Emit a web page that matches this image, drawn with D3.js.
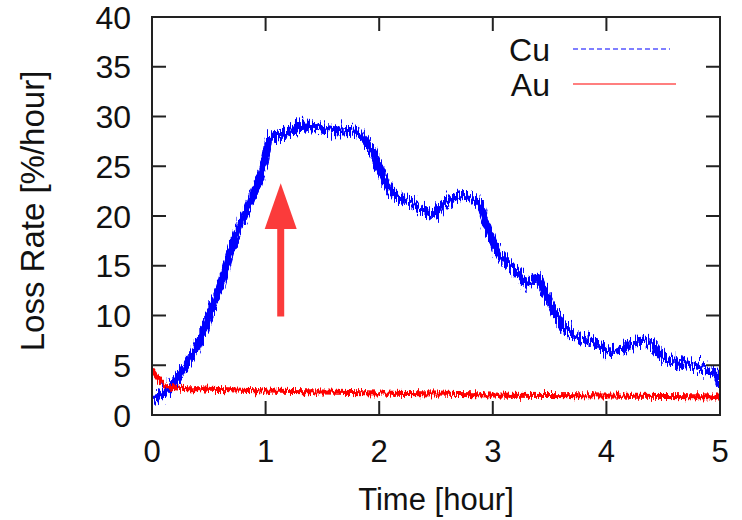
<!doctype html>
<html>
<head>
<meta charset="utf-8">
<script src="https://cdnjs.cloudflare.com/ajax/libs/d3/7.8.5/d3.min.js"></script>
<style>
  body { margin: 0; background: #fff; }
  text { font-family: "Liberation Sans", Arial, Helvetica, sans-serif; fill: #111; }
</style>
</head>
<body>
<svg id="chart" width="742" height="520"></svg>
<script>
// values (time in hours, loss rate in %/hour)
var cuTime = [0, 0.07, 0.14, 0.25, 0.33, 0.42, 0.51, 0.6, 0.69, 0.77, 0.86, 0.95, 1.0, 1.03, 1.1, 1.16, 1.27, 1.36, 1.48, 1.65, 1.8, 1.85, 1.89, 1.95, 2.01, 2.07, 2.15, 2.27, 2.39, 2.47, 2.56, 2.68, 2.75, 2.89, 2.93, 2.97, 3.03, 3.12, 3.21, 3.3, 3.39, 3.44, 3.5, 3.59, 3.68, 3.8, 3.92, 4.0, 4.09, 4.21, 4.32, 4.41, 4.5, 4.62, 4.74, 4.85, 4.94, 4.99, 5.0];
var cuRate = [1.8, 2.0, 2.6, 4.2, 5.5, 7.5, 10.2, 12.9, 16.3, 18.9, 21.3, 23.9, 25.9, 27.6, 28.1, 28.2, 28.9, 29.1, 28.8, 28.5, 28.6, 27.9, 27.4, 26.3, 24.6, 23.1, 22.1, 21.4, 20.6, 20.1, 21.1, 21.9, 22.0, 21.1, 19.6, 18.3, 16.6, 15.4, 14.3, 13.3, 13.8, 12.9, 11.3, 9.5, 8.3, 7.5, 7.2, 6.4, 6.5, 7.0, 7.5, 7.0, 5.8, 5.3, 5.0, 4.7, 4.2, 3.5, 3.0];

var auTime = [0, 0.05, 0.1, 0.15, 0.25, 0.5, 1, 1.5, 2, 2.5, 3, 3.5, 4, 4.5, 5];
var auRate = [4.5, 3.7, 3.1, 2.8, 2.7, 2.6, 2.4, 2.3, 2.2, 2.1, 2.0, 1.95, 1.9, 1.85, 1.8];

var xTicks = [0, 1, 2, 3, 4, 5];
var yTicks = [0, 5, 10, 15, 20, 25, 30, 35, 40];

// arrow pointing at the knee of the Cu curve
var arrowTime = 1.133, arrowFrom = 9.9, arrowHeadBase = 18.7, arrowTip = 23.3;

var svg = d3.select("#chart"),
    plotL = 152, plotR = 720, plotT = 17, plotB = 415;

var x = d3.scaleLinear().domain([0, 5]).range([plotL, plotR]),
    y = d3.scaleLinear().domain([0, 40]).range([plotB, plotT]);

var defs = svg.append("defs");

// vertical jitter so the lines look like dense noisy samples
function jitter(id, freq, amount) {
    var f = defs.append("filter")
        .attr("id", id)
        .attr("filterUnits", "userSpaceOnUse")
        .attr("x", 0).attr("y", 0).attr("width", 742).attr("height", 520)
        .attr("color-interpolation-filters", "sRGB");
    f.append("feTurbulence")
        .attr("type", "fractalNoise")
        .attr("baseFrequency", freq)
        .attr("numOctaves", 3)
        .attr("seed", 7)
        .attr("result", "noise");
    f.append("feColorMatrix")
        .attr("in", "noise")
        .attr("type", "matrix")
        .attr("values", "1 0 0 0 0  0 1 0 0 0  0 0 0 0 0.5  0 0 0 0 1")
        .attr("result", "map");
    f.append("feDisplacementMap")
        .attr("in", "SourceGraphic")
        .attr("in2", "map")
        .attr("scale", amount)
        .attr("xChannelSelector", "B")
        .attr("yChannelSelector", "R");
}
jitter("cuNoise", "0.7 0.08", 24);
jitter("auNoise", "0.7 0.08", 11);

defs.append("clipPath").attr("id", "plotClip")
    .append("rect")
    .attr("x", plotL).attr("y", plotT)
    .attr("width", plotR - plotL).attr("height", plotB - plotT);

var line = d3.line()
    .x(function(d) { return x(d[0]); })
    .y(function(d) { return y(d[1]); })
    .curve(d3.curveMonotoneX);

var cu = cuTime.map(function(t, i) { return [t, cuRate[i]]; });
var au = auTime.map(function(t, i) { return [t, auRate[i]]; });

var plot = svg.append("g").attr("clip-path", "url(#plotClip)");

plot.append("path")
    .datum(cu)
    .attr("d", line)
    .attr("fill", "none")
    .attr("stroke", "#0000ff")
    .attr("stroke-width", 8)
    .attr("filter", "url(#cuNoise)");

plot.append("path")
    .datum(au)
    .attr("d", line)
    .attr("fill", "none")
    .attr("stroke", "#ff0000")
    .attr("stroke-width", 5)
    .attr("filter", "url(#auNoise)");

// arrow
var arrowColor = "#fb3b3b";
svg.append("line")
    .attr("x1", x(arrowTime)).attr("x2", x(arrowTime))
    .attr("y1", y(arrowFrom)).attr("y2", y(arrowHeadBase) - 1)
    .attr("stroke", arrowColor)
    .attr("stroke-width", 7);
svg.append("path")
    .attr("d", "M" + x(arrowTime) + "," + y(arrowTip) +
        "L" + (x(arrowTime) + 16) + "," + y(arrowHeadBase) +
        "L" + (x(arrowTime) - 16) + "," + y(arrowHeadBase) + "Z")
    .attr("fill", arrowColor);

// frame with inward ticks on all four sides
var frame = svg.append("g").attr("stroke", "#222").attr("stroke-width", 2);
frame.append("rect")
    .attr("x", plotL).attr("y", plotT)
    .attr("width", plotR - plotL).attr("height", plotB - plotT)
    .attr("fill", "none");

var tickLen = 14;
xTicks.slice(1, -1).forEach(function(t) {
    frame.append("line").attr("x1", x(t)).attr("x2", x(t)).attr("y1", plotB).attr("y2", plotB - tickLen);
    frame.append("line").attr("x1", x(t)).attr("x2", x(t)).attr("y1", plotT).attr("y2", plotT + tickLen);
});
yTicks.slice(1, -1).forEach(function(v) {
    frame.append("line").attr("x1", plotL).attr("x2", plotL + tickLen).attr("y1", y(v)).attr("y2", y(v));
    frame.append("line").attr("x1", plotR).attr("x2", plotR - tickLen).attr("y1", y(v)).attr("y2", y(v));
});

// tick labels
svg.selectAll(".xlab")
    .data(xTicks)
    .enter().append("text")
    .attr("class", "xlab")
    .attr("x", function(d) { return x(d); })
    .attr("y", 462)
    .attr("text-anchor", "middle")
    .attr("font-size", "31px")
    .text(function(d) { return d; });

svg.selectAll(".ylab")
    .data(yTicks)
    .enter().append("text")
    .attr("class", "ylab")
    .attr("x", 131)
    .attr("y", function(d) { return y(d); })
    .attr("dy", "0.36em")
    .attr("text-anchor", "end")
    .attr("font-size", "32px")
    .text(function(d) { return d; });

// axis titles
svg.append("text")
    .attr("x", (plotL + plotR) / 2)
    .attr("y", 510)
    .attr("text-anchor", "middle")
    .attr("font-size", "31px")
    .text("Time [hour]");

svg.append("text")
    .attr("transform", "translate(44,211) rotate(-90)")
    .attr("text-anchor", "middle")
    .attr("font-size", "33px")
    .text("Loss Rate [%/hour]");

// legend
var legend = [
    { name: "Cu", color: "#0000ff", dash: "5,3", y: 49, end: 670 },
    { name: "Au", color: "#ff0000", dash: null, y: 84, end: 676 }
];
legend.forEach(function(d) {
    svg.append("text")
        .attr("x", 550)
        .attr("y", d.y)
        .attr("dy", "0.36em")
        .attr("text-anchor", "end")
        .attr("font-size", "32px")
        .text(d.name);
    svg.append("line")
        .attr("x1", 573).attr("x2", d.end)
        .attr("y1", d.y).attr("y2", d.y)
        .attr("stroke", d.color)
        .attr("stroke-width", 1.2)
        .attr("stroke-dasharray", d.dash);
});
</script>
</body>
</html>
